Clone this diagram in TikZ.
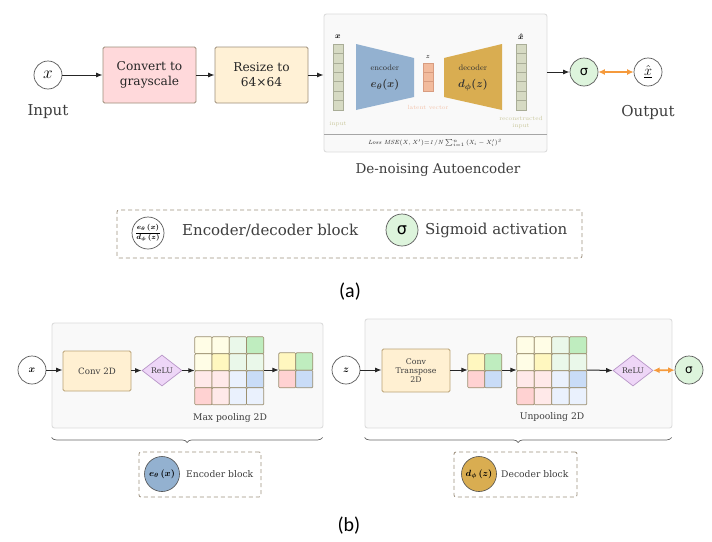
\documentclass[tikz,border=0pt]{standalone}
\usepackage[no-math]{fontspec}
\setmainfont{DejaVu Serif}
\newfontfamily\symsans{DejaVu Sans}
\newfontfamily\capfont{Carlito}
\newfontfamily\lmfont{Latin Modern Roman}
\usepackage{amsmath,bm}
\usetikzlibrary{arrows.meta,shapes.geometric,decorations.pathreplacing}

\definecolor{txtgray}{HTML}{3E3E3E}
\definecolor{pinkbox}{HTML}{FFD9DB}
\definecolor{creambox}{HTML}{FFF1D6}
\definecolor{boxline}{HTML}{9E8E7A}
\definecolor{panelfill}{HTML}{F9F9F9}
\definecolor{panelline}{HTML}{DCDCDC}
\definecolor{sigfill}{HTML}{DDF4DC}
\definecolor{encblue}{HTML}{93B1D0}
\definecolor{decgold}{HTML}{D9AD51}
\definecolor{colfill}{HTML}{D6DAC3}
\definecolor{colline}{HTML}{A9AD97}
\definecolor{latfill}{HTML}{F2BB9D}
\definecolor{latline}{HTML}{D89C80}
\definecolor{orangeA}{HTML}{F59A3C}
\definecolor{legline}{HTML}{9E917F}
\definecolor{relufill}{HTML}{EED6F7}
\definecolor{reluline}{HTML}{B896C8}
\definecolor{convfill}{HTML}{FFF0D2}
\definecolor{convline}{HTML}{B9A276}
\definecolor{inlbl}{HTML}{C9C79B}
\definecolor{latlbl}{HTML}{F3C2AA}
\definecolor{cellline}{HTML}{9C9070}
\definecolor{cyA}{HTML}{FFFDE6}
\definecolor{cyB}{HTML}{FFF7BF}
\definecolor{cgA}{HTML}{EAF8EA}
\definecolor{cgB}{HTML}{BFEDBF}
\definecolor{crA}{HTML}{FFE9E9}
\definecolor{crB}{HTML}{FFD2D2}
\definecolor{cbA}{HTML}{EAF1FD}
\definecolor{cbB}{HTML}{C9DCF7}

% feature-map cells: column/row/colour
\def\bigcells{0/0/cyA,1/0/cyA,2/0/cgA,3/0/cgB,0/1/cyA,1/1/cyB,2/1/cgA,3/1/cgA,0/2/crA,1/2/crA,2/2/cbA,3/2/cbB,0/3/crB,1/3/crA,2/3/cbA,3/3/cbA}
\def\smallcells{0/0/cyB,1/0/cgB,0/1/crB,1/1/cbB}
\newcommand{\drawcells}[4]{%
  \begin{scope}[shift={(#1.north west)}]
    \foreach \i/\j/\c in #2 {\draw[cell, fill=\c] ({\i*#3},{\j*#4}) rectangle ++(#3,#4);}
  \end{scope}}

\tikzset{
  arr/.style={-{Latex[length=6.5pt,width=5pt]}, line width=1pt, draw=black!85},
  oarr/.style={{Latex[length=6.5pt,width=6pt]}-{Latex[length=6.5pt,width=6pt]}, line width=1.6pt, draw=orangeA},
  io/.style={circle, draw=gray!70!black, line width=0.7pt, fill=white, minimum size=28pt, inner sep=0pt},
  sig/.style={io, fill=sigfill},
  stepbox/.style={draw=boxline, line width=0.8pt, rounded corners=1.5pt, align=center, inner sep=0pt,
    font=\fontsize{12.2}{15}\selectfont, text=black!85},
  convbox/.style={draw=convline, fill=convfill, line width=0.8pt, rounded corners=1.5pt, align=center,
    inner sep=0pt, text=txtgray},
  panel/.style={draw=panelline, fill=panelfill, line width=0.9pt, rounded corners=2.5pt},
  legbox/.style={draw=legline, dash pattern=on 4pt off 3pt, line width=0.8pt, rounded corners=2pt},
  relu/.style={diamond, draw=reluline, fill=relufill, line width=0.7pt, minimum width=40pt,
    minimum height=31pt, inner sep=0pt, font=\fontsize{7.8}{8}\selectfont, text=txtgray},
  gridbox/.style={inner sep=0pt, minimum width=#1},
  cell/.style={draw=cellline, line width=0.7pt, rounded corners=1pt},
  colcell/.style={draw=colline, fill=colfill, line width=0.5pt},
  latcell/.style={draw=latline, fill=latfill, line width=0.5pt},
  lbl/.style={text=txtgray, inner sep=0pt},
  big/.style={lbl, font=\fontsize{15}{17}\selectfont},
  small/.style={lbl, font=\fontsize{9.2}{11}\selectfont},
  tiny/.style={inner sep=0pt, font=\lmfont\fontsize{6}{7}\selectfont, align=center},
  brc/.style={decorate, decoration={brace, mirror, amplitude=5pt}, draw=gray!80!black, line width=0.7pt},
}

\begin{document}
\begin{tikzpicture}[x=1pt,y=-1pt]
\fill[white] (0,0) rectangle (712,541);
\useasboundingbox (0,0) rectangle (712,541);

% ---------------- (a) pipeline ----------------
\node[io] (xin) at (48,75) {\fontsize{16}{16}\selectfont$x$};
\node[big] (inlbl) at (48,112) {Input};
\node[stepbox, fill=pinkbox, minimum width=93pt, minimum height=56pt] (gray) at (149.5,75) {Convert to\\grayscale};
\node[stepbox, fill=creambox, minimum width=93pt, minimum height=56pt] (resize) at (261.5,75) {Resize to\\64×64};

% autoencoder panel
\node[panel, minimum width=223pt, minimum height=138pt] (ae) at (435.5,83) {};
\foreach \k in {0,...,6} {
  \draw[colcell] (333,{44+\k*9.43}) rectangle ++(10,9.43);
  \draw[colcell] (516,{44+\k*9.43}) rectangle ++(10,9.43);
}
\foreach \k in {0,1,2} \draw[latcell] (423,{63+\k*9.33}) rectangle ++(10,9.33);
\node[inner sep=0pt, font=\fontsize{8}{8}\selectfont] (xtop) at (338,37) {$\bm{x}$};
\node[inner sep=0pt, font=\fontsize{8}{8}\selectfont] (xhtop) at (521,37) {$\bm{\hat{x}}$};
\node[inner sep=0pt, font=\fontsize{7}{7}\selectfont] (ztop) at (428,57) {$z$};
\node[tiny, text=inlbl] (inputlbl) at (338,124) {input};
\node[tiny, text=latlbl] (latlbl) at (428,107) {latent vector};
\node[tiny, text=inlbl] (reclbl) at (521,122) {reconstructed\\input};
\fill[encblue] (356,44) -- (414,58) -- (414,97) -- (356,110) -- cycle;
\fill[decgold] (444,58) -- (502,44) -- (502,110) -- (444,97) -- cycle;
\node[inner sep=0pt, font=\lmfont\fontsize{8}{8}\selectfont, text=black!80] (enct) at (385,68) {encoder};
\node[inner sep=0pt, font=\fontsize{11}{11}\selectfont, text=black!80] (encf) at (385,85) {$\bm{e_\theta(x)}$};
\node[inner sep=0pt, font=\lmfont\fontsize{8}{8}\selectfont, text=black!80] (dect) at (473,68) {decoder};
\node[inner sep=0pt, font=\fontsize{11}{11}\selectfont, text=black!80] (decf) at (473,85) {$\bm{d_\phi(z)}$};
\draw[gray!70, line width=0.6pt] (324,134) -- (547,134);
\node[inner sep=0pt, font=\fontsize{6.5}{7}\selectfont, text=black!85] (loss) at (435,143)
  {$\mathit{Loss\ MSE(X,X')}{=}\mathit{1/N}\sum_{i=1}^{n}\mathit{(X_i-X'_i)^2}$};
\node[lbl, font=\fontsize{13.5}{16}\selectfont] (aecap) at (438,170) {De-noising Autoencoder};

\node[sig] (sgm) at (584,72) {\symsans\fontsize{13}{13}\selectfont σ};
\node[io] (xout) at (648,72) {\fontsize{15}{15}\selectfont$\underline{\hat{x}}$};
\node[big] (outlbl) at (648,112) {Output};

\draw[arr] (xin) -- (gray);
\draw[arr] (gray) -- (resize);
\draw[arr] (resize.east) -- (resize.east -| ae.west);
\draw[arr] (ae.east |- sgm) -- (sgm);
\draw[oarr] (sgm) -- (xout);

% legend
\node[legbox, minimum width=465pt, minimum height=48pt] (lega) at (349.5,234) {};
\node[io, minimum size=32pt, font=\fontsize{7.2}{7}\selectfont] (lgc) at (148,233) {$\dfrac{\bm{e_\theta\,(x)}}{\bm{d_\phi\,(z)}}$};
\node[big, anchor=west] (lgctxt) at (182,230) {Encoder/decoder block};
\node[sig, minimum size=32pt] (lgs) at (402,230) {\symsans\fontsize{16}{16}\selectfont σ};
\node[big, anchor=west] (lgstxt) at (425,230) {Sigmoid activation};
\node[inner sep=0pt, font=\capfont\fontsize{20}{20}\selectfont] (capa) at (350,292) {(a)};

% ---------------- (b) blocks ----------------
\node[panel, minimum width=271pt, minimum height=105pt] (encp) at (187.5,375.5) {};
\node[panel, minimum width=307pt, minimum height=109pt] (decp) at (518.5,373.5) {};

% encoder block
\node[io, font=\fontsize{10}{10}\selectfont] (xb) at (32,370) {$\bm{x}$};
\node[convbox, minimum width=68pt, minimum height=40pt, font=\fontsize{8.7}{10}\selectfont] (conv) at (97,371) {Conv 2D};
\node[relu] (relu1) at (162,370.5) {ReLU};
\node[gridbox=69pt, minimum height=68pt] (g1) at (229.5,371) {};
\drawcells{g1}{\bigcells}{17.25}{17}
\node[gridbox=34pt, minimum height=35pt] (p1) at (296,370.5) {};
\drawcells{p1}{\smallcells}{17}{17.5}
\node[small] (maxlbl) at (230,418) {Max pooling 2D};
\draw[arr] (xb) -- (conv.west |- xb);
\draw[arr] (conv.east |- relu1) -- (relu1);
\draw[arr] (relu1.east) -- (relu1.east -| g1.west);
\draw[arr] (g1.east |- 0,370) -- (p1.west |- 0,370);

% decoder block
\node[io, font=\fontsize{10}{10}\selectfont] (zb) at (346,370) {$\bm{z}$};
\node[convbox, minimum width=68pt, minimum height=43pt, font=\fontsize{7.8}{9}\selectfont] (convt) at (416,370.5) {Conv\\Transpose\\2D};
\node[gridbox=34pt, minimum height=34pt] (p2) at (485,371) {};
\drawcells{p2}{\smallcells}{17}{17}
\node[gridbox=70pt, minimum height=68pt] (g2) at (552,371) {};
\drawcells{g2}{\bigcells}{17.5}{17}
\node[relu] (relu2) at (633,370.5) {ReLU};
\node[sig] (sgb) at (689,370) {\symsans\fontsize{12}{12}\selectfont σ};
\node[small] (unplbl) at (552,417) {Unpooling 2D};
\draw[arr] (zb) -- (convt.west |- zb);
\draw[arr] (convt.east |- 0,370) -- (p2.west |- 0,370);
\draw[arr] (p2.east |- 0,370) -- (g2.west |- 0,370);
\draw[arr] (g2.east |- 0,370) -- (relu2.west);
\draw[oarr] (relu2) -- (sgb);

% braces
\draw[brc] (encp.south west) ++(0,9) -- ++(271,0);
\draw[brc] (decp.south west) ++(0,9) -- ++(307,0);

% block legends
\node[legbox, minimum width=122pt, minimum height=45pt] (legenc) at (200,474.5) {};
\node[circle, draw=gray!60!black, line width=0.6pt, fill=encblue, minimum size=35pt, inner sep=0pt,
  font=\fontsize{9}{9}\selectfont] (ec) at (162,474) {$\bm{e_\theta\,(x)}$};
\node[small, anchor=west] (ectxt) at (186,474) {Encoder block};
\node[legbox, minimum width=123pt, minimum height=45pt] (legdec) at (515.5,474.5) {};
\node[circle, draw=gray!60!black, line width=0.6pt, fill=decgold, minimum size=35pt, inner sep=0pt,
  font=\fontsize{9}{9}\selectfont] (dc) at (479,474) {$\bm{d_\phi\,(z)}$};
\node[small, anchor=west] (dctxt) at (501,474) {Decoder block};
\node[inner sep=0pt, font=\capfont\fontsize{20}{20}\selectfont] (capb) at (349,526) {(b)};
\end{tikzpicture}
\end{document}
